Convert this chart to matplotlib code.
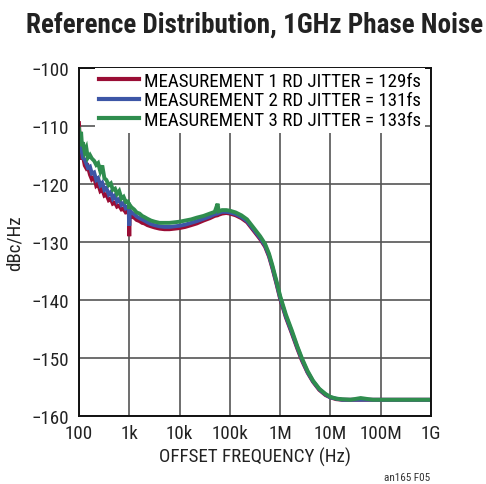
import matplotlib
matplotlib.use("Agg")
import matplotlib.pyplot as plt
from matplotlib.ticker import FixedLocator, NullLocator

FONT = ["Roboto Condensed", "Liberation Sans", "DejaVu Sans"]
plt.rcParams["font.family"] = FONT

# offset frequency in Hz, shared by all three measurements
freq = [100, 105, 110, 115, 120, 130, 140, 150, 165, 180, 200, 220, 240, 265, 290,
        320, 350, 390, 430, 470, 520, 570, 630, 700, 770, 850, 930, 980, 1000, 1020,
        1100, 1250, 1400, 1600, 1800, 2000, 2300, 2700, 3200, 4000, 5000, 6300, 8000,
        10e3, 13e3, 17e3, 22e3, 30e3, 40e3, 50e3, 57e3, 60e3, 70e3, 85e3, 100e3,
        130e3, 170e3, 220e3, 300e3, 400e3, 500e3, 600e3, 700e3, 850e3, 1e6, 1.3e6,
        1.7e6, 2.2e6, 2.7e6, 3.5e6, 4.5e6, 6e6, 8e6, 10e6, 13e6, 17e6, 25e6, 40e6,
        70e6, 100e6, 200e6, 400e6, 700e6, 1e9]

meas1 = [-109.5, -113.5, -114.5, -115.8, -115.2, -116.8, -117.3, -117.0, -118.4, -119.2,
         -118.8, -120.3, -120.0, -121.2, -120.9, -122.0, -121.8, -122.8, -122.6, -123.4,
         -123.2, -123.9, -123.7, -124.4, -124.3, -124.9, -124.8, -125.2, -129.0, -125.3,
         -125.6, -125.8, -126.2, -126.4, -126.7, -126.8, -127.1, -127.3, -127.5, -127.7,
         -127.8, -127.8, -127.7, -127.6, -127.4, -127.1, -126.8, -126.3, -125.9, -125.5,
         -125.4, -125.3, -125.1, -125.0, -125.1, -125.4, -125.9, -126.6, -128.1, -129.5,
         -130.8, -132.5, -134.5, -137.3, -139.8, -143.0, -145.7, -148.4, -150.4, -152.5,
         -154.1, -155.5, -156.4, -156.8, -157.1, -157.2, -157.2, -157.2, -157.2, -157.2,
         -157.2, -157.2, -157.2, -157.2]

meas2 = [-112.5, -113.0, -114.0, -114.6, -115.5, -115.8, -116.5, -117.2, -117.0, -118.2,
         -118.0, -119.3, -119.0, -120.2, -119.8, -121.0, -120.7, -121.8, -121.4, -122.5,
         -122.0, -123.0, -122.6, -123.6, -123.3, -124.2, -124.0, -124.5, -127.2, -124.6,
         -124.9, -125.2, -125.6, -125.9, -126.1, -126.3, -126.6, -126.9, -127.1, -127.3,
         -127.4, -127.4, -127.3, -127.2, -127.0, -126.7, -126.4, -126.0, -125.6, -125.2,
         -125.1, -125.0, -124.8, -124.8, -124.9, -125.2, -125.7, -126.4, -127.9, -129.3,
         -130.6, -132.3, -134.3, -137.1, -139.6, -142.8, -145.5, -148.2, -150.2, -152.4,
         -154.0, -155.4, -156.3, -156.8, -157.0, -157.2, -157.2, -157.2, -157.2, -157.2,
         -157.2, -157.2, -157.2, -157.2]

meas3 = [-110.5, -112.5, -111.0, -113.5, -112.8, -114.5, -113.8, -115.5, -115.0, -115.6,
         -116.0, -116.7, -116.4, -117.8, -116.8, -119.0, -119.3, -120.2, -119.9, -121.0,
         -120.8, -121.7, -121.2, -122.5, -122.2, -123.1, -123.0, -123.5, -124.3, -123.6,
         -124.0, -124.4, -124.9, -125.1, -125.5, -125.7, -126.0, -126.3, -126.5, -126.7,
         -126.7, -126.7, -126.6, -126.5, -126.3, -126.1, -125.8, -125.5, -125.1, -124.8,
         -123.4, -124.7, -124.5, -124.5, -124.6, -124.9, -125.4, -126.1, -127.6, -129.0,
         -130.3, -132.0, -134.0, -136.8, -139.3, -142.5, -145.2, -148.0, -150.0, -152.2,
         -153.9, -155.3, -156.2, -156.7, -157.0, -157.1, -157.2, -156.9, -157.2, -157.2,
         -157.2, -157.2, -157.2, -157.2]

labels = ["MEASUREMENT 1 RD JITTER = 129fs",
          "MEASUREMENT 2 RD JITTER = 131fs",
          "MEASUREMENT 3 RD JITTER = 133fs"]
colors = ["#9a0d35", "#3d56a6", "#2f8d4e"]

x_ticks = [1e2, 1e3, 1e4, 1e5, 1e6, 1e7, 1e8, 1e9]
x_ticklabels = ["100", "1k", "10k", "100k", "1M", "10M", "100M", "1G"]
y_ticks = [-160, -150, -140, -130, -120, -110, -100]

fs = 13.7

fig = plt.figure(figsize=(4.86, 4.85), dpi=100)
ax = fig.add_axes([79 / 486, 1 - 417 / 485, 352 / 486, 348 / 485])

for y, c, lab in zip([meas1, meas2, meas3], colors, labels):
    ax.plot(freq, y, color=c, lw=2.8, label=lab, solid_joinstyle="miter")

ax.set_xscale("log")
ax.set_xlim(1e2, 1e9)
ax.set_ylim(-160, -100)
ax.xaxis.set_major_locator(FixedLocator(x_ticks))
ax.xaxis.set_minor_locator(NullLocator())
ax.set_xticklabels(x_ticklabels)
ax.set_yticks(y_ticks)
ax.set_yticklabels(["\u2212%d" % abs(v) for v in y_ticks])
ax.tick_params(length=0, labelsize=fs, colors="#222222")
ax.tick_params(axis="x", pad=5.5)
ax.tick_params(axis="y", pad=7)
ax.grid(True, color="#555555", lw=1.2)
ax.set_axisbelow(True)
for s in ax.spines.values():
    s.set_linewidth(1.4)
    s.set_color("#111111")

leg = ax.legend(loc="upper left", bbox_to_anchor=(0.045, 1.0), fontsize=fs,
                frameon=True, fancybox=False, framealpha=1, edgecolor="none",
                facecolor="white", handlelength=2.1, handletextpad=0.28,
                labelspacing=0.08, borderpad=0.2, borderaxespad=0.0)
for line in leg.get_lines():
    line.set_linewidth(3)

ax.set_xlabel("OFFSET FREQUENCY (Hz)", fontsize=fs, color="#222222", labelpad=4)
ax.set_ylabel("dBc/Hz", fontsize=fs, color="#222222", labelpad=6)

fig.text(0.523, 1 - 33 / 485, "Reference Distribution, 1GHz Phase Noise",
         ha="center", va="baseline", fontsize=19.5, fontweight="bold", color="#222222")
fig.text(430 / 486, 1 - 481 / 485, "an165 F05", ha="right", va="baseline",
         fontsize=8, color="#333333")

fig.savefig("out.png", dpi=100)
